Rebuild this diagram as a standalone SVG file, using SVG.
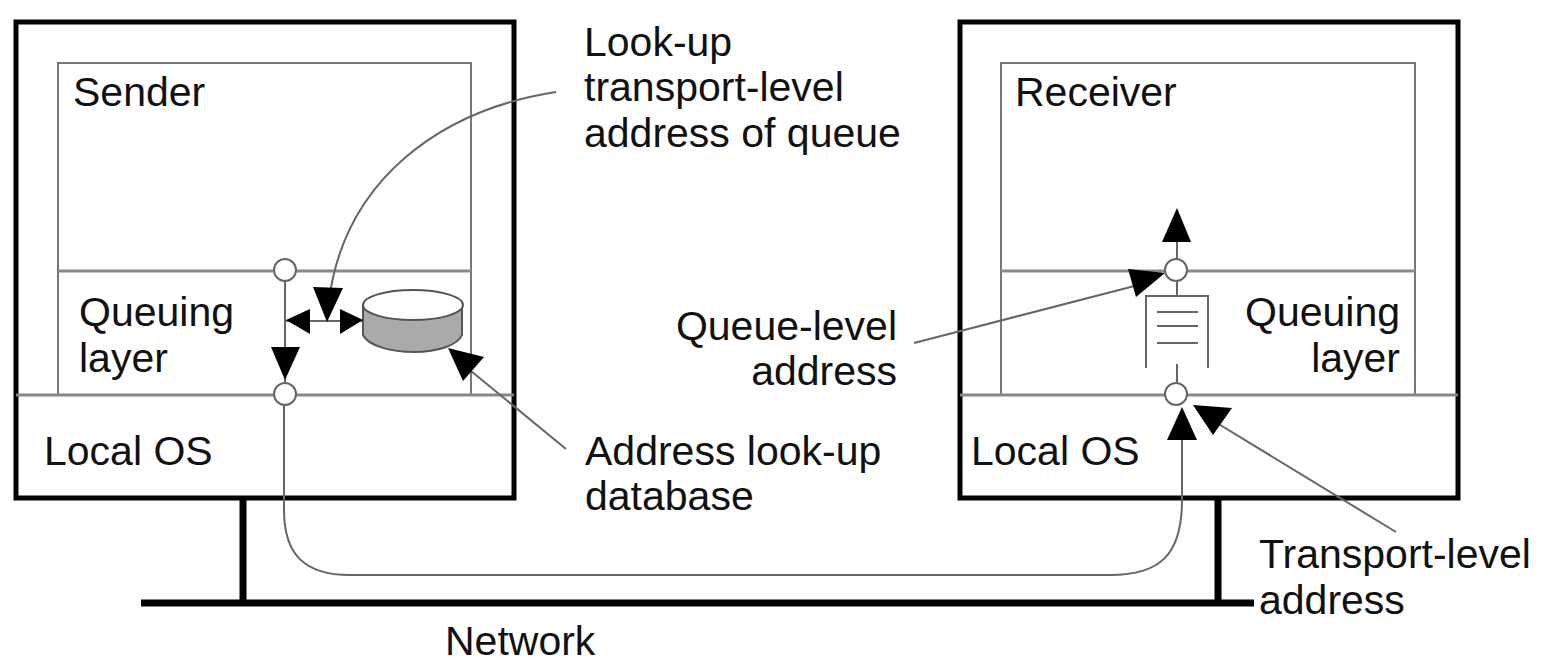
<svg xmlns="http://www.w3.org/2000/svg" width="1541" height="666" viewBox="0 0 1541 666">
<style>
text{font-family:"Liberation Sans",Arial,sans-serif;font-size:41px;fill:#111}
.end{text-anchor:end}
.box{fill:none;stroke:#000;stroke-width:5}
.thin{fill:none;stroke:#777;stroke-width:2}
.layer{fill:none;stroke:#888;stroke-width:3}
.wire{fill:none;stroke:#666;stroke-width:2}
.port{fill:#fff;stroke:#666;stroke-width:2}
.head{fill:#000;stroke:none}
.net{fill:none;stroke:#000;stroke-width:7}
</style>
<rect width="1541" height="666" fill="#fff"/>
<g id="network">
<path class="net" d="M141 603H1254M243 498V603M1218 498V603"/>
<text x="445" y="655">Network</text>
</g>
<g id="sender-host">
<rect class="box" x="16" y="22" width="498" height="476"/>
<rect class="thin" x="58" y="63" width="413" height="332"/>
<path class="layer" d="M58 271H471M16 395H514"/>
<text x="73" y="106">Sender</text>
<text x="79" y="326">Queuing</text>
<text x="79" y="372">layer</text>
<text x="44" y="465">Local OS</text>
</g>
<g id="receiver-host">
<rect class="box" x="960" y="22" width="498" height="476"/>
<rect class="thin" x="1001" y="63" width="414" height="332"/>
<path class="layer" d="M1001 271H1415M960 395H1458"/>
<text x="1015" y="106">Receiver</text>
<text class="end" x="1400" y="326">Queuing</text>
<text class="end" x="1400" y="372">layer</text>
<text x="971" y="465">Local OS</text>
</g>
<g id="database">
<path d="M363 305V335C368 346 392 352 414 352C438 352 458 345 462 335V305Z" fill="#aaa" stroke="#555" stroke-width="2"/>
<ellipse cx="413" cy="305" rx="50" ry="15" fill="#fff" stroke="#555" stroke-width="2"/>
</g>
<g id="queue">
<path class="wire" d="M1146 368V296H1208V368"/>
<path class="wire" d="M1157 312H1198M1157 326H1198M1157 343H1198"/>
</g>
<g id="connectors">
<path class="wire" d="M285 281V390"/>
<path class="wire" d="M285 321H362"/>
<path class="wire" d="M556 92C440 110 345 180 329 300"/>
<path class="wire" d="M284 404V510C284 555 305 575 350 575H1110C1160 575 1182 555 1182 500V430"/>
<path class="wire" d="M1177 240V265M1177 280V296M1177 364V385"/>
<path class="wire" d="M914 343L1150 282"/>
<path class="wire" d="M566 449L460 362"/>
<path class="wire" d="M1396 532L1212 420"/>
<polygon class="head" points="285,380 271,347 300,347"/>
<polygon class="head" points="286,320 310,309 310,334"/>
<polygon class="head" points="363,320 340,309 340,334"/>
<polygon class="head" points="327,322 313,287 343,288"/>
<polygon class="head" points="448,348 484,357 463,381"/>
<polygon class="head" points="1177,208 1162,242 1191,242"/>
<polygon class="head" points="1165,273 1128,269 1136,297"/>
<polygon class="head" points="1182,407 1167,440 1197,440"/>
<polygon class="head" points="1193,405 1232,408 1213,435"/>
<circle class="port" cx="285" cy="270" r="11"/>
<circle class="port" cx="285" cy="394" r="11"/>
<circle class="port" cx="1176" cy="270" r="11"/>
<circle class="port" cx="1176" cy="394" r="11"/>
</g>
<g id="labels">
<text x="584" y="56">Look-up</text>
<text x="584" y="101">transport-level</text>
<text x="584" y="147">address of queue</text>
<text class="end" x="897" y="340">Queue-level</text>
<text class="end" x="897" y="385">address</text>
<text x="585" y="465">Address look-up</text>
<text x="585" y="510">database</text>
<text x="1259" y="568">Transport-level</text>
<text x="1259" y="614">address</text>
</g>
</svg>
